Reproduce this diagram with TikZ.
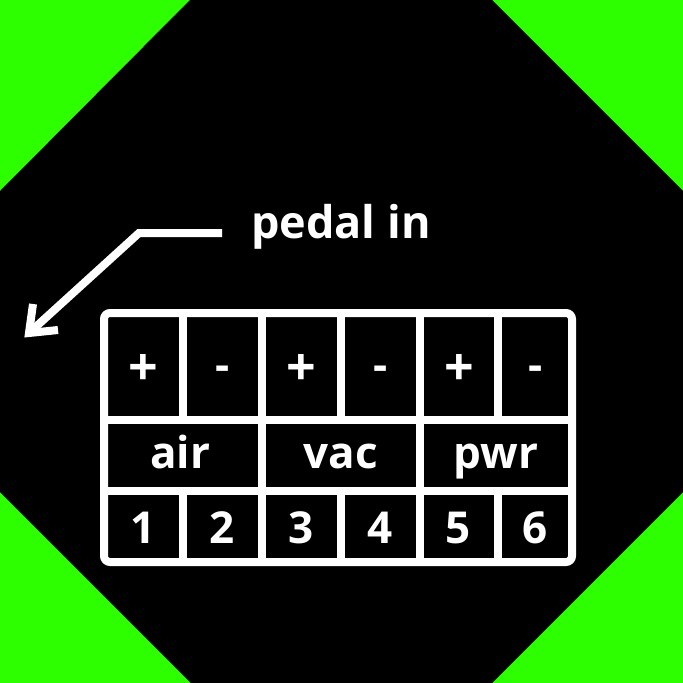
\documentclass[tikz,border=0pt]{standalone}
\usepackage{fontspec}
\setmainfont{Open Sans}
\definecolor{bggreen}{RGB}{46,255,0}
\begin{document}
\begin{tikzpicture}[x=1pt,y=-1pt,
  wline/.style={draw=white,line width=8pt},
  lbl/.style={text=white,font=\fontsize{44}{50}\selectfont\bfseries,inner sep=0pt,anchor=base},
  plusl/.style={lbl,font=\fontsize{52}{60}\selectfont\bfseries}]
\useasboundingbox (0,0) rectangle (683,683);
\fill[bggreen] (0,0) rectangle (683,683);
\fill[black] (190,0) -- (492,0) -- (683,191) -- (683,492) -- (492,683) -- (191,683) -- (0,492) -- (0,191) -- cycle;
% table
\draw[wline, rounded corners=6pt] (104,313) rectangle (572,562);
\draw[wline] (104,420) -- (572,420);
\draw[wline] (104,491) -- (572,491);
\foreach \x in {262,420} \draw[wline] (\x,313) -- (\x,562);
\foreach \x in {183,341,498} {
  \draw[wline] (\x,313) -- (\x,420);
  \draw[wline] (\x,491) -- (\x,562);
}
% row 1
\node[plusl] (s1) at (143.5,385) {+};
\node[lbl] (s2) at (222.5,380) {-};
\node[plusl] (s3) at (301.5,385) {+};
\node[lbl] (s4) at (380.5,380) {-};
\node[plusl] (s5) at (459,385) {+};
\node[lbl] (s6) at (535.5,380) {-};
% row 2
\node[lbl] (air) at (180,468) {air};
\node[lbl] (vac) at (341,468) {vac};
\node[lbl] (pwr) at (496,468) {pwr};
% row 3
\node[lbl] (n1) at (143.5,543) {1};
\node[lbl] (n2) at (222.5,543) {2};
\node[lbl] (n3) at (301.5,543) {3};
\node[lbl] (n4) at (380.5,543) {4};
\node[lbl] (n5) at (458.5,543) {5};
\node[lbl] (n6) at (535.5,543) {6};
% label and arrow
\node[lbl, anchor=base west, font=\fontsize{45}{50}\selectfont\bfseries] (pedal) at (251,238) {pedal in};
\coordinate (a0) at (222,233);
\coordinate (a1) at (139,233);
\coordinate (tip) at (29,333);
\coordinate (barbA) at (33,304);
\coordinate (barbB) at (58,330);
\draw[wline, line join=miter] (a0) -- (a1) -- (tip);
\draw[wline, line join=miter] (barbA) -- (tip) -- (barbB);
\end{tikzpicture}
\end{document}
